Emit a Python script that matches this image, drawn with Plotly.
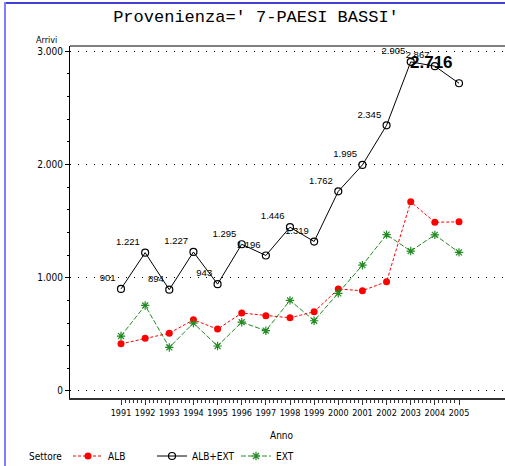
import plotly.graph_objects as go

years = list(range(1991, 2006))
alb = [416, 466, 510, 628, 546, 688, 664, 646, 699, 900, 885, 965, 1670, 1489, 1493]
alb_ext = [901, 1221, 894, 1227, 943, 1295, 1196, 1446, 1319, 1762, 1995, 2345, 2905, 2867, 2716]
ext = [485, 755, 384, 599, 397, 607, 532, 800, 620, 862, 1110, 1380, 1235, 1378, 1223]
y_ticks = [0, 1000, 2000, 3000]

NARROW = "DejaVu Sans Condensed, Liberation Sans Narrow, sans-serif"
MONO = "Liberation Mono, DejaVu Sans Mono, monospace"
SANS = "Liberation Sans, Arial, sans-serif"

def fmt(v):
    return f"{v:,}".replace(",", ".")

labels = [fmt(v) for v in alb_ext[:-1]] + [""]

# plot area in pixels: left 70, right 505, top 46, bottom 398
L, R, T, B = 70, 505, 46, 398
W, H = R - L, B - T
def px(x):
    return (x - L) / W
def py(y):
    return (B - y) / H

fig = go.Figure()

fig.add_trace(go.Scatter(
    x=years, y=alb, name="ALB", mode="lines+markers",
    line=dict(color="#ff0000", width=1, dash="3px,2px"),
    marker=dict(symbol="circle", size=7, color="#ff0000"),
))
fig.add_trace(go.Scatter(
    x=years, y=alb_ext, name="ALB+EXT", mode="lines+markers+text",
    line=dict(color="black", width=1),
    marker=dict(symbol="circle-open", size=7, color="black", line=dict(width=1.2, color="black")),
    text=labels, textposition="top left",
    textfont=dict(family=SANS, size=9.5, color="black"),
))
fig.add_trace(go.Scatter(
    x=years, y=ext, name="EXT", mode="lines+markers",
    line=dict(color="#228b22", width=1, dash="5px,2px"),
    marker=dict(symbol="asterisk-open", size=7, color="#228b22", line=dict(width=1.2, color="#228b22")),
))

minor_vals = [y + k / 6 for y in years[:-1] for k in range(1, 6)]

fig.update_layout(
    width=505, height=466,
    margin=dict(l=L, r=0, t=T, b=466 - B, autoexpand=False),
    plot_bgcolor="white", paper_bgcolor="white",
    separators=",.",
    showlegend=True,
    title=dict(text="Provenienza=' 7-PAESI BASSI'", x=(256) / 505, xanchor="center",
               y=1 - 16 / 466, yanchor="middle",
               font=dict(family=MONO, size=17, color="black")),
    legend=dict(orientation="h", x=px(68), y=py(456), xanchor="left", yanchor="middle",
                font=dict(family=NARROW, size=10, color="black"),
                entrywidth=39, entrywidthmode="pixels", itemwidth=30,
                bgcolor="rgba(0,0,0,0)"),
    xaxis=dict(
        range=[1991 - (121 - L) / 24.14, 2005 + (R - 459) / 24.14],
        tickmode="array", tickvals=years, ticktext=[str(y) for y in years],
        tickangle=0,
        ticks="outside", ticklen=5, tickwidth=1, tickcolor="#333",
        minor=dict(tickmode="array", tickvals=minor_vals, ticks="outside", ticklen=3, tickcolor="#333"),
        showline=True, linecolor="#333", linewidth=1.5,
        showgrid=False, zeroline=False,
        tickfont=dict(family=NARROW, size=9, color="black"),
        fixedrange=True,
    ),
    yaxis=dict(
        range=[-62, 3045],
        tickmode="array", tickvals=y_ticks, tickformat=",d",
        ticks="outside", ticklen=4, tickcolor="black",
        minor=dict(dtick=200, ticks="outside", ticklen=2, tickcolor="black", showgrid=False),
        showline=True, linecolor="black", linewidth=1,
        showgrid=True, gridcolor="black", gridwidth=1, griddash="1px,7px",
        zeroline=False,
        tickfont=dict(family=NARROW, size=10, color="black"),
        fixedrange=True,
    ),
    shapes=[
        dict(type="line", xref="paper", yref="paper", x0=0, x1=1, y0=1, y1=1,
             line=dict(color="black", width=1.2)),
        dict(type="line", xref="paper", yref="paper", x0=px(5), x1=1.01, y0=py(3), y1=py(3),
             line=dict(color="#0000c8", width=1.5)),
        dict(type="line", xref="paper", yref="paper", x0=px(5), x1=px(5), y0=py(470), y1=py(2),
             line=dict(color="#8080ff", width=2)),
    ],
    annotations=[
        dict(text="Arrivi", xref="paper", yref="paper", x=px(46), y=py(40), showarrow=False,
             xanchor="center", yanchor="middle", font=dict(family=NARROW, size=9, color="black")),
        dict(text="Anno", xref="paper", yref="paper", x=px(282), y=py(435), showarrow=False,
             xanchor="center", yanchor="middle", font=dict(family=NARROW, size=10, color="black")),
        dict(text="Settore", xref="paper", yref="paper", x=px(27), y=py(456), showarrow=False,
             xanchor="left", yanchor="middle", font=dict(family=NARROW, size=10, color="black")),
        dict(text=fmt(alb_ext[-1]), x=years[-1], y=alb_ext[-1], xref="x", yref="y",
             showarrow=False, xshift=-28, yshift=21, xanchor="center", yanchor="middle",
             font=dict(family=SANS, size=17, color="black", weight="bold")),
    ],
)

fig.write_html("out.html", config={"displayModeBar": False},
               post_script="document.body.style.margin='0';document.body.style.overflow='hidden';")
